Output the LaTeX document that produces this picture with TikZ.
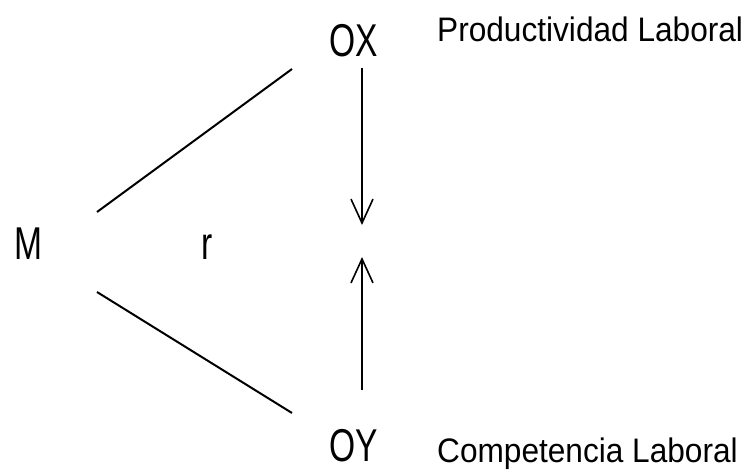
\documentclass[tikz,border=0pt]{standalone}
\usepackage{fontspec}
\usetikzlibrary{arrows.meta}
\newfontfamily\narrowfont[FakeStretch=0.73]{Liberation Sans}
\newfontfamily\labelfont[FakeStretch=0.93]{Liberation Sans}
\tikzset{
  bigtext/.style={inner sep=0pt, anchor=base, font=\narrowfont\fontsize{46}{50}\selectfont},
  lbltext/.style={inner sep=0pt, anchor=base west, font=\labelfont\fontsize{34}{38}\selectfont},
  link/.style={line width=2pt},
  flow/.style={line width=1.6pt, -{Straight Barb[length=24pt,width=22pt,line width=1.6pt]}}
}
\begin{document}
\begin{tikzpicture}[x=1pt,y=-1pt]
\useasboundingbox (0,0) rectangle (747,470);
\node[bigtext] (M) at (28,260) {M};
\node[bigtext] (r) at (207,260) {r};
\node[bigtext] (OX) at (354,57) {OX};
\node[bigtext] (OY) at (353.5,461) {OY};
\node[lbltext] (PL) at (437,42) {Productividad Laboral};
\node[lbltext] (CL) at (437,462) {Competencia Laboral};
\coordinate (m1) at (97,212);
\coordinate (x1) at (292,69);
\coordinate (m2) at (97,292);
\coordinate (y1) at (292,413);
\coordinate (xs) at (362,68);
\coordinate (xe) at (362,225);
\coordinate (ys) at (362,390);
\coordinate (ye) at (362,257);
\draw[link] (m1) -- (x1);
\draw[link] (m2) -- (y1);
\draw[flow] (xs) -- (xe);
\draw[flow] (ys) -- (ye);
\end{tikzpicture}
\end{document}
